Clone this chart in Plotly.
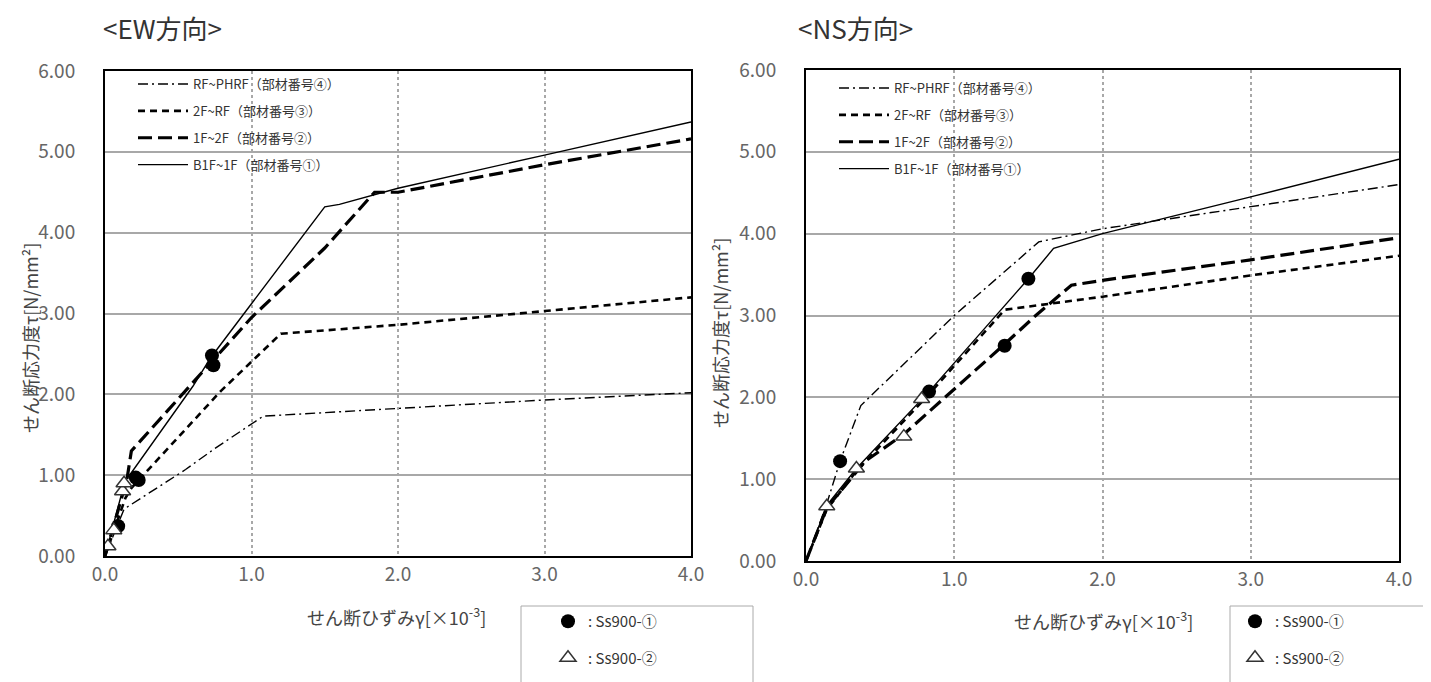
import plotly.graph_objects as go

# ---------------- data ----------------
series_names = ["RF~PHRF（部材番号④）", "2F~RF（部材番号③）", "1F~2F（部材番号②）", "B1F~1F（部材番号①）"]

# EW direction
ew_rf_x = [0, 0.13, 0.55, 0.75, 1.08, 2.0, 3.0, 4.0]
ew_rf_y = [0, 0.58, 1.07, 1.33, 1.73, 1.83, 1.93, 2.02]
ew_2f_x = [0, 0.14, 0.18, 0.79, 1.2, 2.0, 3.0, 4.0]
ew_2f_y = [0, 0.72, 0.84, 2.04, 2.75, 2.86, 3.03, 3.20]
ew_1f_x = [0, 0.15, 0.18, 1.0, 1.5, 1.84, 2.0, 3.0, 4.0]
ew_1f_y = [0, 0.95, 1.30, 2.95, 3.81, 4.50, 4.50, 4.84, 5.16]
ew_b1_x = [0, 0.14, 0.18, 0.6, 0.72, 1.5, 1.6, 2.0, 3.0, 4.0]
ew_b1_y = [0, 0.95, 1.03, 2.10, 2.45, 4.32, 4.35, 4.55, 4.96, 5.37]

ew_c_x = [0.09, 0.21, 0.23, 0.73, 0.74]
ew_c_y = [0.37, 0.97, 0.94, 2.48, 2.36]
ew_t_x = [0.02, 0.06, 0.12, 0.13]
ew_t_y = [0.12, 0.32, 0.80, 0.90]

# NS direction
ns_rf_x = [0, 0.14, 0.23, 0.37, 1.0, 1.57, 2.0, 3.0, 4.0]
ns_rf_y = [0, 0.70, 1.22, 1.90, 3.00, 3.90, 4.06, 4.33, 4.60]
ns_2f_x = [0, 0.14, 0.34, 0.80, 1.34, 2.0, 3.0, 4.0]
ns_2f_y = [0, 0.63, 1.10, 1.98, 3.07, 3.23, 3.49, 3.73]
ns_1f_x = [0, 0.14, 0.40, 0.66, 1.34, 1.55, 1.79, 2.0, 3.0, 4.0]
ns_1f_y = [0, 0.65, 1.22, 1.55, 2.65, 3.00, 3.37, 3.43, 3.68, 3.95]
ns_b1_x = [0, 0.14, 0.34, 0.83, 1.5, 1.67, 2.0, 3.0, 4.0]
ns_b1_y = [0, 0.68, 1.13, 2.07, 3.45, 3.82, 4.00, 4.45, 4.91]

ns_c_x = [0.23, 0.83, 1.34, 1.50]
ns_c_y = [1.22, 2.07, 2.63, 3.45]
ns_t_x = [0.14, 0.34, 0.66, 0.78]
ns_t_y = [0.67, 1.13, 1.52, 1.98]

x_ticks = [0, 1, 2, 3, 4]
y_ticks = [0, 1, 2, 3, 4, 5, 6]

# ---------------- styling ----------------
JP = "Noto Sans CJK JP"
styles = [
    dict(dash="10px,4px,2px,4px", width=1.4),
    dict(dash="7px,5px", width=2.6),
    dict(dash="14px,6px", width=3.2),
    dict(dash="solid", width=1.4),
]

fig = go.Figure()

def add_lines(xs_list, ys_list, xa, ya, leg, tag):
    for i, (name, xs, ys, st) in enumerate(zip(series_names, xs_list, ys_list, styles)):
        fig.add_trace(go.Scatter(
            x=xs, y=ys, mode="lines", name=name, xaxis=xa, yaxis=ya,
            line=dict(color="black", width=st["width"], dash=st["dash"]),
            legend=leg, legendgroup=f"{tag}{i}", showlegend=True))

def add_markers(cx, cy, tx, ty, xa, ya, leg, tag):
    fig.add_trace(go.Scatter(
        x=cx, y=cy, mode="markers", name=": Ss900-①", xaxis=xa, yaxis=ya,
        marker=dict(symbol="circle", size=14, color="black"), legend=leg,
        legendgroup=f"{tag}c"))
    fig.add_trace(go.Scatter(
        x=tx, y=ty, mode="markers", name=": Ss900-②", xaxis=xa, yaxis=ya,
        marker=dict(symbol="triangle-up", size=14, color="white",
                    line=dict(color="#333", width=1.5)), legend=leg,
        legendgroup=f"{tag}t"))

add_lines([ew_rf_x, ew_2f_x, ew_1f_x, ew_b1_x], [ew_rf_y, ew_2f_y, ew_1f_y, ew_b1_y], "x", "y", "legend", "ew")
add_markers(ew_c_x, ew_c_y, ew_t_x, ew_t_y, "x", "y", "legend3", "ew")
add_lines([ns_rf_x, ns_2f_x, ns_1f_x, ns_b1_x], [ns_rf_y, ns_2f_y, ns_1f_y, ns_b1_y], "x2", "y2", "legend2", "ns")
add_markers(ns_c_x, ns_c_y, ns_t_x, ns_t_y, "x2", "y2", "legend4", "ns")

W, H = 1431, 682

def px(x):
    return x / W

def py(y):
    return (H - y) / H

axis_common = dict(
    range=[0, 4], tickvals=x_ticks, tickformat=".1f", showgrid=True,
    gridcolor="#a8a8a8", griddash="dot", gridwidth=1.5, zeroline=False,
    showline=True, linecolor="black", linewidth=2, mirror=True,
    ticks="", ticklabelstandoff=0, tickfont=dict(family=JP, size=19, color="#666"),
)
yaxis_common = dict(
    range=[0, 6], tickvals=y_ticks, tickformat=".2f", showgrid=True,
    gridcolor="#a8a8a8", gridwidth=1.5, zeroline=False,
    showline=True, linecolor="black", linewidth=2, mirror=True,
    ticks="", ticklabelstandoff=24, tickfont=dict(family=JP, size=19, color="#666"),
)

leg_common = dict(bgcolor="rgba(0,0,0,0)", font=dict(family=JP, size=13, color="#333"),
                  tracegroupgap=7, itemwidth=50, xref="paper", yref="paper",
                  xanchor="left", yanchor="top")
mleg_common = dict(bgcolor="rgba(0,0,0,0)", borderwidth=0,
                   font=dict(family=JP, size=15, color="#333"), itemwidth=30,
                   tracegroupgap=14,
                   xanchor="left", yanchor="top", xref="paper", yref="paper")

fig.update_layout(
    width=W, height=H, paper_bgcolor="white", plot_bgcolor="white",
    margin=dict(l=0, r=0, t=0, b=0, autoexpand=False),
    xaxis=dict(domain=[px(97), px(683)], anchor="y", **axis_common),
    yaxis=dict(domain=[py(548), py(63)], anchor="x", **yaxis_common),
    xaxis2=dict(domain=[px(798), px(1391)], anchor="y2", **axis_common),
    yaxis2=dict(domain=[py(553), py(62)], anchor="x2", **yaxis_common),
    legend=dict(x=px(125), y=py(61), **leg_common),
    legend2=dict(x=px(826), y=py(65), **leg_common),
    legend3=dict(x=px(540), y=py(597), **mleg_common),
    legend4=dict(x=px(1227), y=py(597), **mleg_common),
    showlegend=True,
)

# boxes around the marker legends
for x0, x1 in [(513, 745), (1222, 1440)]:
    fig.add_shape(type="rect", xref="paper", yref="paper",
                  x0=px(x0), x1=px(x1), y0=py(700), y1=py(598),
                  line=dict(color="#aaa", width=1), fillcolor="rgba(0,0,0,0)", layer="below")

ann_font = dict(family=JP, size=26, color="#333")
fig.add_annotation(text="<EW方向>", x=px(93), y=py(20), xref="paper", yref="paper",
                   xanchor="left", yanchor="middle", showarrow=False, font=ann_font)
fig.add_annotation(text="<NS方向>", x=px(788), y=py(20), xref="paper", yref="paper",
                   xanchor="left", yanchor="middle", showarrow=False, font=ann_font)

lab_font = dict(family=JP, size=18, color="#444")
ytitle = "せん断応力度τ[N/mm²]"
xtitle = "せん断ひずみγ[×10<sup>-3</sup>]"
fig.add_annotation(text=ytitle, x=px(22), y=py(330), xref="paper", yref="paper",
                   xanchor="center", yanchor="middle",
                   textangle=-90, showarrow=False, font=lab_font)
fig.add_annotation(text=ytitle, x=px(712), y=py(325), xref="paper", yref="paper",
                   xanchor="center", yanchor="middle",
                   textangle=-90, showarrow=False, font=lab_font)
fig.add_annotation(text=xtitle, x=px(388), y=py(608), xref="paper", yref="paper",
                   xanchor="center", yanchor="middle", showarrow=False, font=lab_font)
fig.add_annotation(text=xtitle, x=px(1095), y=py(612), xref="paper", yref="paper",
                   xanchor="center", yanchor="middle", showarrow=False, font=lab_font)

fig.write_html("out.html")
